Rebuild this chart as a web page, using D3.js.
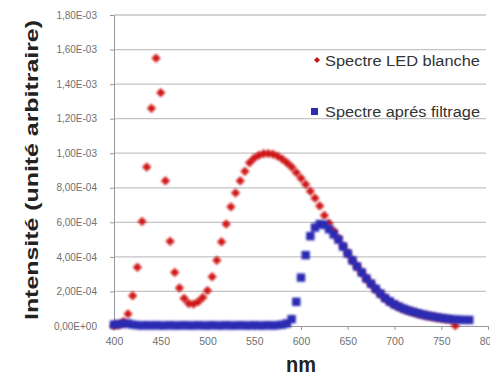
<!DOCTYPE html>
<html>
<head>
<meta charset="utf-8">
<script src="https://cdn.jsdelivr.net/npm/d3@7"></script>
<style>
  body { margin: 0; background: #fff; }
  svg { display: block; font-family: "Liberation Sans", Arial, sans-serif; }
</style>
</head>
<body>
<svg width="490" height="378"></svg>
<script>
// wavelengths (nm) and intensities (x 1e-4)
var redNm = d3.range(400, 770, 5);
var redVal = [0.02, 0.05, 0.25, 0.7, 1.75, 3.4, 6.05, 9.2, 12.6, 15.5,
  13.5, 8.4, 4.9, 3.1, 2.2, 1.6, 1.3, 1.27, 1.4, 1.65,
  2.05, 2.85, 3.8, 4.87, 5.9, 6.9, 7.7, 8.4, 8.95, 9.45,
  9.72, 9.88, 9.97, 9.98, 9.94, 9.83, 9.66, 9.45, 9.2, 8.88,
  8.55, 8.2, 7.8, 7.4, 6.95, 6.4, 5.95, 5.5, 5.08, 4.62,
  4.2, 3.78, 3.42, 3.07, 2.72, 2.42, 2.12, 1.85, 1.59, 1.39,
  1.22, 1.09, 0.97, 0.87, 0.79, 0.71, 0.64, 0.58, 0.53, 0.48,
  0.44, 0.4, 0.37, 0.02];

var blueNm = d3.range(400, 785, 5);
var blueVal = [0.08, 0.12, 0.12, 0.15, 0.08, 0.05, 0.03, 0.05, 0.03, 0.05,
  0.03, 0.03, 0.05, 0.03, 0.03, 0.05, 0.03, 0.03, 0.05, 0.03,
  0.03, 0.05, 0.03, 0.03, 0.05, 0.03, 0.03, 0.05, 0.03, 0.03,
  0.05, 0.03, 0.03, 0.05, 0.03, 0.05, 0.08, 0.15, 0.4, 1.4,
  2.8, 4.1, 5.2, 5.7, 5.9, 5.85, 5.6, 5.3, 5.0, 4.6,
  4.2, 3.8, 3.45, 3.1, 2.75, 2.45, 2.15, 1.88, 1.62, 1.42,
  1.25, 1.12, 1.0, 0.9, 0.82, 0.74, 0.67, 0.61, 0.56, 0.51,
  0.47, 0.43, 0.4, 0.38, 0.36, 0.35, 0.35];

var yTicks = d3.range(0, 1.81e-3, 2e-4);
var xTicks = [400, 450, 500, 550, 600, 650, 700, 750, 800];
var seriesNames = ["Spectre LED blanche", "Spectre aprés filtrage"];

var svg = d3.select("svg");

var x = d3.scaleLinear().domain([400, 800]).range([114, 488]);
var y = d3.scaleLinear().domain([0, 1.8e-3]).range([326, 15]);

// French-style scientific labels: 1,80E-03
function sciFr(d) {
  if (d < 1e-12) return "0,00E+00";
  var e = Math.floor(Math.log10(d) + 1e-9);
  var m = d / Math.pow(10, e);
  var es = (e < 0 ? "-" : "+") + (Math.abs(e) < 10 ? "0" : "") + Math.abs(e);
  return m.toFixed(2).replace(".", ",") + "E" + es;
}

var defs = svg.append("defs");
defs.append("filter").attr("id", "soft")
  .attr("x", "-5%").attr("y", "-5%").attr("width", "110%").attr("height", "110%")
  .append("feGaussianBlur").attr("stdDeviation", 0.8);

// gridlines
svg.append("g")
  .selectAll("line")
  .data(yTicks.slice(1))
  .enter().append("line")
    .attr("x1", 114).attr("x2", 486)
    .attr("y1", function(d) { return y(d); })
    .attr("y2", function(d) { return y(d); })
    .attr("stroke", "#c4c4c4").attr("stroke-width", 1.3);

// y axis
var yAxis = svg.append("g")
  .attr("transform", "translate(114,0)")
  .call(d3.axisLeft(y).tickValues(yTicks).tickFormat(sciFr).tickSize(4).tickPadding(13));
yAxis.select(".domain").attr("stroke", "#999");
yAxis.selectAll(".tick line").attr("stroke", "#999");
yAxis.selectAll("text").attr("fill", "#707070").style("font-size", "10px");

// x axis
var xAxis = svg.append("g")
  .attr("transform", "translate(0,326)")
  .call(d3.axisBottom(x).tickValues(xTicks).tickFormat(d3.format("d")).tickSize(4).tickPadding(8));
xAxis.select(".domain").attr("stroke", "#999");
xAxis.selectAll(".tick line").attr("stroke", "#999");
xAxis.selectAll("text").attr("fill", "#707070").style("font-size", "10.5px");

// axis titles
svg.append("text")
  .attr("transform", "translate(38,170) rotate(-90)")
  .attr("text-anchor", "middle")
  .attr("textLength", 300).attr("lengthAdjust", "spacingAndGlyphs")
  .style("font-size", "19px").style("font-weight", "bold")
  .attr("fill", "#222")
  .text("Intensité (unité arbitraire)");

svg.append("text")
  .attr("transform", "translate(301,372) scale(1,1.1)")
  .attr("text-anchor", "middle")
  .style("font-size", "20px").style("font-weight", "bold")
  .attr("fill", "#222")
  .text("nm");

var diamond = d3.symbol().type(d3.symbolDiamond2).size(44);

// red series (diamonds)
svg.append("g")
  .attr("filter", "url(#soft)")
  .selectAll("path")
  .data(redNm)
  .enter().append("path")
    .attr("d", diamond)
    .attr("transform", function(d, i) { return "translate(" + x(d) + "," + y(redVal[i] * 1e-4) + ")"; })
    .attr("fill", "#d41818").attr("stroke", "#c01010").attr("stroke-width", 0.8);

// blue series (squares)
svg.append("g")
  .attr("filter", "url(#soft)")
  .selectAll("rect")
  .data(blueNm)
  .enter().append("rect")
    .attr("x", function(d) { return x(d) - 4.2; })
    .attr("y", function(d, i) { return y(blueVal[i] * 1e-4) - 4.2; })
    .attr("width", 8.4).attr("height", 8.4)
    .attr("fill", "#2b2bb3");

// legend
var legend = svg.append("g");
legend.append("path")
  .attr("d", d3.symbol().type(d3.symbolDiamond2).size(24))
  .attr("transform", "translate(317,60)")
  .attr("fill", "#c41818");
legend.append("rect")
  .attr("x", 311).attr("y", 108).attr("width", 7).attr("height", 7)
  .attr("fill", "#2b2bb3");
legend.selectAll("text")
  .data(seriesNames)
  .enter().append("text")
    .attr("x", 325)
    .attr("y", function(d, i) { return i === 0 ? 65.5 : 117; })
    .attr("textLength", 155).attr("lengthAdjust", "spacingAndGlyphs")
    .style("font-size", "15.5px")
    .attr("fill", "#333")
    .text(function(d) { return d; });
</script>
</body>
</html>
